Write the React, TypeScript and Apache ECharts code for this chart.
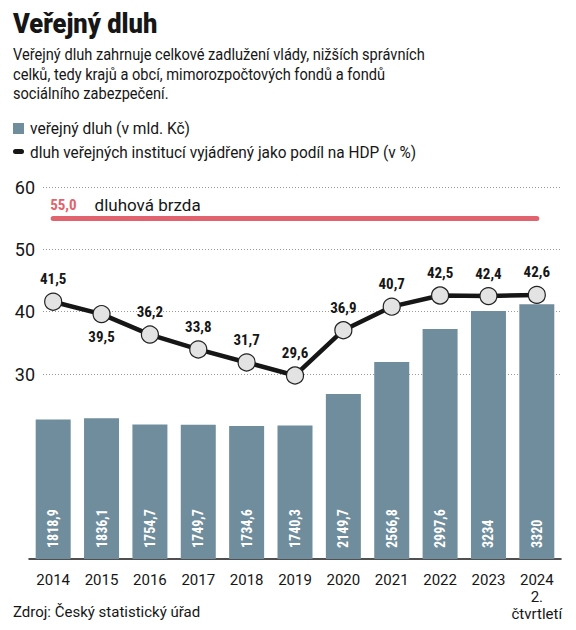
import React, { useEffect, useRef } from "react";
import * as echarts from "echarts";

const categories = ["2014", "2015", "2016", "2017", "2018", "2019", "2020", "2021", "2022", "2023", "2024\n2.\nčtvrtletí"];
const debtValues = [1818.9, 1836.1, 1754.7, 1749.7, 1734.6, 1740.3, 2149.7, 2566.8, 2997.6, 3234, 3320];
const pctValues = [41.5, 39.5, 36.2, 33.8, 31.7, 29.6, 36.9, 40.7, 42.5, 42.4, 42.6];
const belowLabelIdx = [1];
const brakeValue = 55;
const pctTicks = { min: 30, max: 60, interval: 10 };

const COND = "'Roboto Condensed','Liberation Sans Narrow','DejaVu Sans Condensed',Roboto,sans-serif";
const SANS = "Roboto,'Noto Sans',sans-serif";
const BAR = "#6f8d9d";
const RED = "#e0636d";
const INK = "#161616";

const fmt = (v: number) => String(v).replace(".", ",");

export default function App() {
  const ref = useRef<HTMLDivElement>(null);
  useEffect(() => {
    if (!ref.current) return;
    const chart = echarts.init(ref.current, null, { renderer: "svg" });
    const txt = (text: string, x: number, y: number, font: string, fill: string, sx = 1) => ({
      type: "text",
      x,
      y,
      scaleX: sx,
      style: { text, x: 0, y: 0, font, fill, align: "left", verticalAlign: "middle" },
    });
    chart.setOption({
      animation: false,
      backgroundColor: "#fff",
      graphic: [
        txt("Veřejný dluh", 13, 24, `900 28px ${SANS}`, INK, 0.91),
        txt("Veřejný dluh zahrnuje celkové zadlužení vlády, nižších správních", 13, 54, `17px ${SANS}`, INK, 0.86),
        txt("celků, tedy krajů a obcí, mimorozpočtových fondů a fondů", 13, 74, `17px ${SANS}`, INK, 0.86),
        txt("sociálního zabezpečení.", 13, 93, `17px ${SANS}`, INK, 0.86),
        { type: "rect", shape: { x: 13, y: 123, width: 11, height: 11 }, style: { fill: BAR } },
        txt("veřejný dluh (v mld. Kč)", 30, 128, `17px ${SANS}`, INK, 0.915),
        { type: "rect", shape: { x: 13, y: 149, width: 11, height: 5, r: 2.5 }, style: { fill: INK } },
        txt("dluh veřejných institucí vyjádřený jako podíl na HDP (v %)", 30, 152, `17px ${SANS}`, INK, 0.905),
        txt("Zdroj: Český statistický úřad", 13, 612, `15px ${SANS}`, INK, 1.0),
      ],
      grid: [
        { left: 29, right: 15, top: 187, bottom: 71 },
        { left: 43, right: 14, top: 187, bottom: 256 },
      ],
      xAxis: [
        {
          type: "category",
          gridIndex: 0,
          data: categories,
          axisLine: { lineStyle: { color: INK, width: 1.5 } },
          axisTick: { inside: true, length: 8, lineStyle: { color: INK, width: 1.5 } },
          axisLabel: { color: INK, fontSize: 15, fontFamily: SANS, margin: 12, lineHeight: 17, interval: 0 },
        },
        { type: "value", gridIndex: 1, min: 0, max: 1, show: false },
      ],
      yAxis: [
        { type: "value", gridIndex: 0, min: 0, max: 4850, show: false, splitLine: { show: false } },
        { type: "value", gridIndex: 0, min: 0, max: 60, show: false, splitLine: { show: false } },
        {
          type: "value",
          gridIndex: 1,
          min: pctTicks.min,
          max: pctTicks.max,
          interval: pctTicks.interval,
          axisLine: { show: false },
          axisTick: { show: false },
          axisLabel: { color: INK, fontSize: 18, fontFamily: SANS, margin: 8 },
          splitLine: { lineStyle: { color: "#9a9a9a", type: [1, 2], width: 1 } },
        },
      ],
      series: [
        {
          type: "bar",
          xAxisIndex: 0,
          yAxisIndex: 0,
          data: debtValues,
          barWidth: 35,
          itemStyle: { color: BAR },
          label: {
            show: true,
            position: "insideBottom",
            rotate: 90,
            align: "left",
            verticalAlign: "middle",
            distance: 11,
            color: "#fff",
            fontFamily: COND,
            fontWeight: "bold",
            fontSize: 14,
            formatter: (p: any) => fmt(p.value),
          },
        },
        {
          type: "line",
          xAxisIndex: 0,
          yAxisIndex: 1,
          data: pctValues.map((v, i) => ({
            value: v,
            label: { position: belowLabelIdx.includes(i) ? "bottom" : "top" },
          })),
          lineStyle: { color: INK, width: 4.5 },
          symbol: "circle",
          symbolSize: 17,
          itemStyle: { color: "#e3e3e3", borderColor: "#222", borderWidth: 1.2 },
          label: {
            show: true,
            distance: 6,
            color: INK,
            fontFamily: COND,
            fontWeight: "bold",
            fontSize: 15,
            formatter: (p: any) => fmt(p.value),
          },
          markLine: {
            silent: true,
            symbol: "none",
            lineStyle: { color: RED, width: 5, type: "solid", cap: "round" },
            label: {
              show: true,
              position: "insideStartTop",
              distance: [-3, 5],
              formatter: "{a|" + brakeValue.toFixed(1).replace(".", ",") + "}{b|dluhová brzda}",
              rich: {
                a: { color: RED, fontFamily: COND, fontWeight: "bold", fontSize: 15 },
                b: { color: INK, fontFamily: SANS, fontSize: 17, padding: [0, 0, 0, 18] },
              },
            },
            data: [[{ coord: [0, brakeValue] }, { coord: [categories.length - 1, brakeValue] }]],
          },
        },
      ],
    });
    return () => chart.dispose();
  }, []);
  return <div ref={ref} style={{ position: "fixed", left: 0, top: 0, width: 576, height: 630 }} />;
}
